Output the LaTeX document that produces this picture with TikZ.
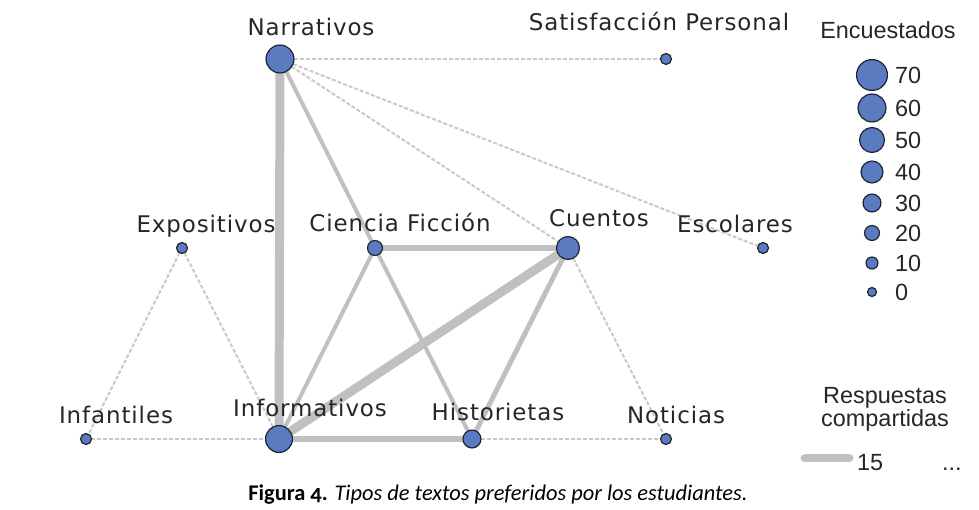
\documentclass[tikz,border=0pt]{standalone}
\usepackage{fontspec}
\setmainfont{DejaVu Sans}
\newfontfamily\fuentenodo[LetterSpace=4]{DejaVu Sans}
\newfontfamily\fuenteleyenda{Liberation Sans}
\newfontfamily\fuentepie[Numbers=OldStyle]{Carlito}
\usetikzlibrary{backgrounds}
\definecolor{azulnodo}{RGB}{91,123,192}
\definecolor{bordenodo}{RGB}{30,36,52}
\definecolor{grisarista}{RGB}{192,192,192}

\begin{document}
\begin{tikzpicture}[
    x=1bp,
    y=-1bp,
    nodo/.style={circle, draw=bordenodo, fill=azulnodo, line width=1.2, inner sep=0pt, outer sep=0pt},
    etiqueta/.style={font=\fuentenodo\fontsize{23}{25}\selectfont, text=black!85, anchor=base, inner sep=0pt},
    leyenda/.style={font=\fuenteleyenda\fontsize{23.5}{25}\selectfont, text=black!85, inner sep=0pt},
    fuerte/.style={draw=grisarista},
    debil/.style={draw=grisarista!85, line width=2, dash pattern=on 4 off 2}
]
\useasboundingbox (0,0) rectangle (979,510);

% Tipo de texto / posición / radio / etiqueta / posición de la etiqueta
\foreach \id/\x/\y/\r/\txt/\lx/\ly in {
    narr/280/59/14/Narrativos/311/36,
    sati/666/59/5.5/Satisfacción Personal/659/31,
    expo/182/248/5.5/Expositivos/206/233,
    cien/375/248/7.5/Ciencia Ficción/400/232,
    cuen/568/248/11.5/Cuentos/599/227,
    esco/763/248/5.5/Escolares/735/233,
    infa/86/439/5.5/Infantiles/116/423,
    info/279/439/13.5/Informativos/310/416,
    hist/472/439/9/Historietas/498/420,
    noti/666/439/5.5/Noticias/676/423}
{
    \node[nodo, minimum size=2*\r] (\id) at (\x,\y) {};
    \node[etiqueta] (et-\id) at (\lx,\ly) {\txt};
}

% Aristas
\begin{scope}[on background layer]
    \foreach \a/\b/\g in {narr/info/9, cuen/info/9, cien/cuen/6, info/hist/6,
        cuen/hist/5, narr/cien/4, cien/info/4, cien/hist/4}
        \draw[fuerte, line width=\g] (\a) -- (\b);
    \foreach \a/\b in {narr/sati, narr/cuen, narr/esco, cuen/noti,
        expo/infa, expo/info, infa/info, hist/noti}
        \draw[debil] (\a) -- (\b);
\end{scope}

% Leyenda: encuestados
\node[leyenda, anchor=base] (enc) at (888,39) {Encuestados};
\foreach \v/\y/\r [count=\i] in {70/75/15.5, 60/108/14, 50/140/12.5, 40/172/11,
    30/203/9, 20/233/7.5, 10/263/6, 0/292/4.5}
{
    \node[nodo, minimum size=2*\r] (ley-\i) at (872,\y) {};
    \node[leyenda, anchor=west] (val-\i) at (895,\y) {\v};
}

% Leyenda: respuestas compartidas
\node[leyenda, anchor=base] (resp1) at (885,403) {Respuestas};
\node[leyenda, anchor=base] (resp2) at (885,426) {compartidas};
\coordinate (m1) at (805,458);
\coordinate (m2) at (849,458);
\draw[fuerte, line width=9, line cap=round] (m1) -- (m2);
\node[leyenda, anchor=base west] (quince) at (857,470) {15};
\node[leyenda, anchor=base west] (puntos) at (942,470) {...};

% Pie de figura
\node[anchor=base, inner sep=0pt] (pie) at (498,500)
    {\fuentepie\fontsize{22.5}{24}\selectfont\textbf{Figura 4.} \textit{Tipos de textos preferidos por los estudiantes.}};

\end{tikzpicture}
\end{document}
